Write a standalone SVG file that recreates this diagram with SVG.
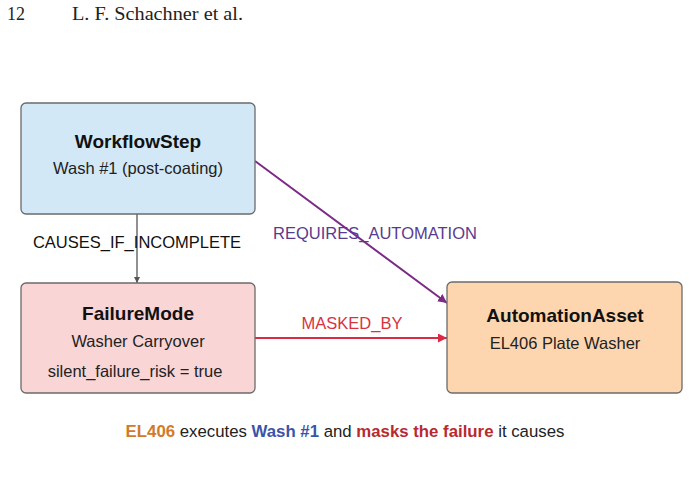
<svg xmlns="http://www.w3.org/2000/svg" width="689" height="503" viewBox="0 0 689 503">
<style>
.hdr{font-family:"Liberation Serif","DejaVu Serif",serif;font-size:18px;fill:#222}
.box{stroke:#6b6b6b;stroke-width:1.3}
.t{font-family:"Liberation Sans",Arial,sans-serif;font-size:19px;font-weight:bold;fill:#111;text-anchor:middle}
.s{font-family:"Liberation Sans",Arial,sans-serif;font-size:16.5px;fill:#222;text-anchor:middle}
.lbl{font-family:"Liberation Sans",Arial,sans-serif;font-size:16.5px;text-anchor:middle}
.cap{font-family:"Liberation Sans",Arial,sans-serif;font-size:16.8px;fill:#222;text-anchor:middle}
</style>
<defs>
<marker id="ag" viewBox="0 0 10 10" refX="10" refY="5" markerWidth="6" markerHeight="6" markerUnits="userSpaceOnUse" orient="auto"><path d="M0,0 L10,5 L0,10 z" fill="#555"/></marker>
<marker id="ap" viewBox="0 0 10 10" refX="10" refY="5" markerWidth="9" markerHeight="9" markerUnits="userSpaceOnUse" orient="auto"><path d="M0,0 L10,5 L0,10 z" fill="#7b2a86"/></marker>
<marker id="ar" viewBox="0 0 10 10" refX="10" refY="5" markerWidth="9" markerHeight="9" markerUnits="userSpaceOnUse" orient="auto"><path d="M0,0 L10,5 L0,10 z" fill="#dc2a44"/></marker>
</defs>
<rect width="689" height="503" fill="#fff"/>
<text class="hdr" x="7" y="20">12</text>
<text class="hdr" x="72" y="20" textLength="171" lengthAdjust="spacingAndGlyphs">L. F. Schachner et al.</text>
<g id="connectors">
<line x1="137" y1="214" x2="137" y2="283" stroke="#555" stroke-width="1.3" marker-end="url(#ag)"/>
<text class="lbl" x="137" y="248" fill="#111">CAUSES_IF_INCOMPLETE</text>
<line x1="255" y1="161" x2="447" y2="303" stroke="#7b2a86" stroke-width="2" marker-end="url(#ap)"/>
<text class="lbl" x="375" y="239" fill="#5a3a90">REQUIRES_AUTOMATION</text>
<line x1="255" y1="338" x2="447" y2="338" stroke="#dc2a44" stroke-width="2" marker-end="url(#ar)"/>
<text class="lbl" x="352" y="329" fill="#d8323f">MASKED_BY</text>
</g>
<g id="workflowstep">
<rect class="box" x="21" y="103" width="234" height="111" rx="5" fill="#d3e8f7"/>
<text class="t" x="138" y="148">WorkflowStep</text>
<text class="s" x="138" y="174">Wash #1 (post-coating)</text>
</g>
<g id="failuremode">
<rect class="box" x="21" y="283" width="234" height="110" rx="5" fill="#f9d5d6"/>
<text class="t" x="138" y="320">FailureMode</text>
<text class="s" x="138" y="347">Washer Carryover</text>
<text class="s" x="135" y="377">silent_failure_risk = true</text>
</g>
<g id="automationasset">
<rect class="box" x="447" y="282" width="235" height="111" rx="5" fill="#fdd6b0"/>
<text class="t" x="565" y="322">AutomationAsset</text>
<text class="s" x="565" y="349">EL406 Plate Washer</text>
</g>
<text class="cap" x="345" y="437"><tspan fill="#d07a2a" font-weight="bold">EL406</tspan> executes <tspan fill="#3a54a8" font-weight="bold">Wash #1</tspan> and <tspan fill="#b82a30" font-weight="bold">masks the failure</tspan> it causes</text>
</svg>
